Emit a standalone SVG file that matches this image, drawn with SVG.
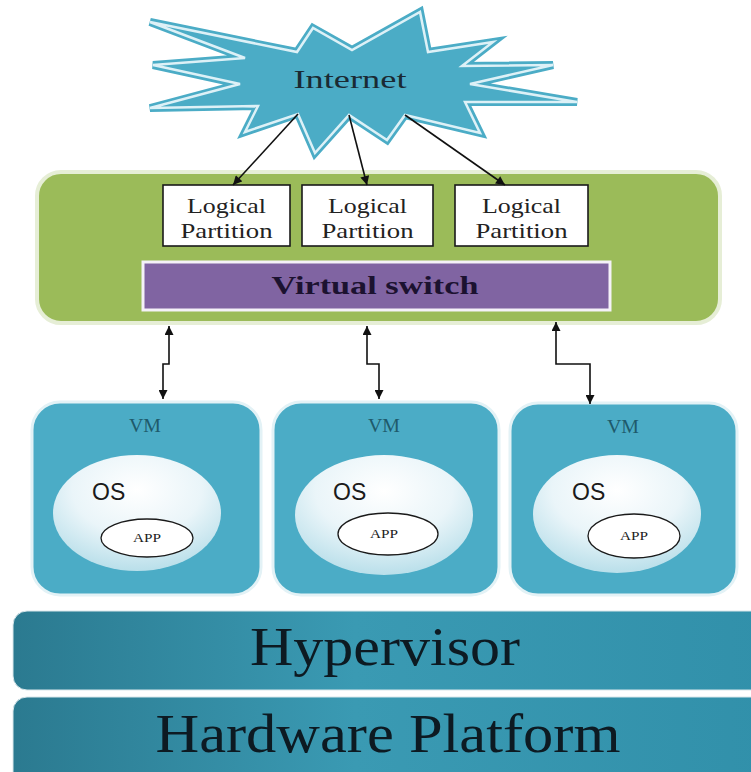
<svg xmlns="http://www.w3.org/2000/svg" width="751" height="772" viewBox="0 0 751 772">
<style>
.serif{font-family:"Liberation Serif","Times New Roman",serif;}
.sans{font-family:"Liberation Sans",Arial,sans-serif;}
.lp{fill:#fff;stroke:#1a1a1a;stroke-width:1.6;}
.lpt{font-size:22px;fill:#222;text-anchor:middle;}
.vm{fill:#4BACC6;stroke:#E3F2F6;stroke-width:3;}
.vmt{font-size:18px;fill:#1E5A6B;text-anchor:middle;}
.os{fill:url(#osg);}
.ost{font-size:23px;fill:#1a1a1a;}
.app{fill:#fff;stroke:#1a1a1a;stroke-width:1.3;}
.appt{font-size:12px;fill:#1a1a1a;text-anchor:middle;}
.conn{fill:none;stroke:#111;stroke-width:1.6;}
.bar{fill:url(#barg);stroke:#d8e6ea;stroke-width:1;}
.bart{font-size:54px;fill:#0d1a22;text-anchor:middle;}
</style>
<defs>
<marker id="ah" viewBox="0 0 10 10" refX="10" refY="5" markerWidth="10" markerHeight="9" markerUnits="userSpaceOnUse" orient="auto-start-reverse">
<path d="M0,0 L10,5 L0,10 z" fill="#111"/>
</marker>
<radialGradient id="osg" cx="50%" cy="30%" r="70%">
<stop offset="0" stop-color="#FFFFFF"/>
<stop offset="0.55" stop-color="#EAF5F9"/>
<stop offset="1" stop-color="#B9DFEA"/>
</radialGradient>
<linearGradient id="barg" x1="0" y1="0" x2="1" y2="0">
<stop offset="0" stop-color="#2B7A90"/>
<stop offset="0.45" stop-color="#3A9AB3"/>
<stop offset="1" stop-color="#3190AA"/>
</linearGradient>
</defs>

<g id="internet">
<polygon points="150,22 297,52 313,28 352,50 420,12 428,52 493,42 462,66 553,65 470,84 577,102 465,102 480,133 405,115 387,140 349,115 315,153 298,114 245,132 258,106 150,108 240,84 153,65 245,58" fill="#4BACC6" stroke="#4BACC6" stroke-width="8" stroke-linejoin="miter"/>
<polygon points="150,22 297,52 313,28 352,50 420,12 428,52 493,42 462,66 553,65 470,84 577,102 465,102 480,133 405,115 387,140 349,115 315,153 298,114 245,132 258,106 150,108 240,84 153,65 245,58" fill="#4BACC6" stroke="#DDF1F7" stroke-width="2.5" stroke-linejoin="miter"/>
<text class="serif" x="350" y="88" font-size="26" fill="#1a2a33" text-anchor="middle" textLength="113" lengthAdjust="spacingAndGlyphs">Internet</text>
</g>

<g id="host">
<rect x="37" y="172" width="683" height="151" rx="24" fill="#9BBB59" stroke="#E6EED6" stroke-width="4"/>
</g>

<g id="lp1">
<rect class="lp" x="163" y="185" width="127" height="61"/>
<text class="serif lpt" x="226.5" y="213" textLength="79" lengthAdjust="spacingAndGlyphs">Logical</text>
<text class="serif lpt" x="226.5" y="238" textLength="92" lengthAdjust="spacingAndGlyphs">Partition</text>
</g>
<g id="lp2">
<rect class="lp" x="302" y="185" width="131" height="61"/>
<text class="serif lpt" x="367.5" y="213" textLength="79" lengthAdjust="spacingAndGlyphs">Logical</text>
<text class="serif lpt" x="367.5" y="238" textLength="92" lengthAdjust="spacingAndGlyphs">Partition</text>
</g>
<g id="lp3">
<rect class="lp" x="455" y="185" width="133" height="61"/>
<text class="serif lpt" x="521.5" y="213" textLength="79" lengthAdjust="spacingAndGlyphs">Logical</text>
<text class="serif lpt" x="521.5" y="238" textLength="92" lengthAdjust="spacingAndGlyphs">Partition</text>
</g>

<g id="vswitch">
<rect x="143" y="262" width="467" height="48" fill="#8064A2" stroke="#F4F1F8" stroke-width="3"/>
<text class="serif" x="375" y="294" font-size="25" font-weight="bold" fill="#1C1230" text-anchor="middle" textLength="207" lengthAdjust="spacingAndGlyphs">Virtual switch</text>
</g>

<g id="vm1">
<rect class="vm" x="32" y="402" width="229" height="193" rx="28"/>
<text class="serif vmt" x="145" y="432" textLength="32" lengthAdjust="spacingAndGlyphs">VM</text>
<ellipse class="os" cx="137" cy="513" rx="84" ry="58"/>
<text class="sans ost" x="92" y="500">OS</text>
<ellipse class="app" cx="147" cy="538" rx="46" ry="19"/>
<text class="serif appt" x="147" y="542" textLength="28" lengthAdjust="spacingAndGlyphs">APP</text>
</g>
<g id="vm2">
<rect class="vm" x="273" y="402" width="226" height="193" rx="28"/>
<text class="serif vmt" x="384" y="432" textLength="32" lengthAdjust="spacingAndGlyphs">VM</text>
<ellipse class="os" cx="384" cy="515" rx="89" ry="60"/>
<text class="sans ost" x="333" y="500">OS</text>
<ellipse class="app" cx="388" cy="534" rx="50" ry="21"/>
<text class="serif appt" x="384" y="538" textLength="28" lengthAdjust="spacingAndGlyphs">APP</text>
</g>
<g id="vm3">
<rect class="vm" x="510" y="403" width="227" height="192" rx="28"/>
<text class="serif vmt" x="623" y="433" textLength="32" lengthAdjust="spacingAndGlyphs">VM</text>
<ellipse class="os" cx="617" cy="514" rx="84" ry="59"/>
<text class="sans ost" x="572" y="500">OS</text>
<ellipse class="app" cx="634" cy="536" rx="46" ry="22"/>
<text class="serif appt" x="634" y="540" textLength="28" lengthAdjust="spacingAndGlyphs">APP</text>
</g>

<g id="hypervisor">
<rect class="bar" x="13" y="611" width="760" height="79" rx="14"/>
<text class="serif bart" x="385" y="665" textLength="270" lengthAdjust="spacingAndGlyphs">Hypervisor</text>
</g>
<g id="hardware">
<rect class="bar" x="13" y="697" width="760" height="90" rx="14"/>
<text class="serif bart" x="388" y="752" textLength="465" lengthAdjust="spacingAndGlyphs">Hardware Platform</text>
</g>

<g id="connectors">
<line class="conn" x1="298" y1="114" x2="233" y2="185" marker-end="url(#ah)"/>
<line class="conn" x1="349" y1="115" x2="367" y2="185" marker-end="url(#ah)"/>
<line class="conn" x1="405" y1="115" x2="505" y2="185" marker-end="url(#ah)"/>
<polyline class="conn" points="169,326 169,364 163,364 163,399" marker-start="url(#ah)" marker-end="url(#ah)"/>
<polyline class="conn" points="367,326 367,364 379,364 379,399" marker-start="url(#ah)" marker-end="url(#ah)"/>
<polyline class="conn" points="556,322 556,364 590,364 590,404" marker-start="url(#ah)" marker-end="url(#ah)"/>
</g>
</svg>
